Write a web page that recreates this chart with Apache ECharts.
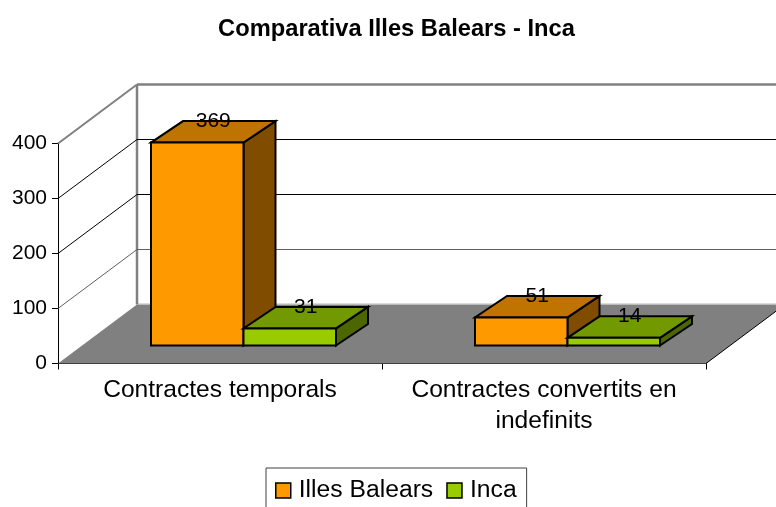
<!DOCTYPE html>
<html><head><meta charset="utf-8">
<style>html,body{margin:0;padding:0;background:#fff}#c{width:776px;height:507px}</style>
<script src="https://cdn.jsdelivr.net/npm/echarts@6/dist/echarts.min.js"></script>
</head><body><div id="c"></div>
<script>
const categories = ['Contractes temporals', 'Contractes convertits en\nindefinits'];
const illesBalears = [369, 51];
const inca = [31, 14];
const yTicks = [0, 100, 200, 300, 400];

const FONT = '"Liberation Sans", Arial, sans-serif';
const WALL = [79, 59];
const BAR_OFFSET = [23.5, 18];
const BAR_DEPTH = [32, 21.5];
const BAR_FRAC = 92.5 / 324;

function poly(points, fill, stroke, lw) {
  return {type: 'polygon', shape: {points}, style: {fill, stroke: stroke || 'none', lineWidth: lw || 0, lineJoin: 'miter'}};
}
function line(pts, stroke, lw) {
  return {type: 'polyline', shape: {points: pts}, style: {fill: 'none', stroke, lineWidth: lw}};
}

function renderWalls(params, api) {
  const t = api.value(1);
  const band = api.size([1, 0])[0];
  const c0 = api.coord([0, t]);
  const xL = Math.round(c0[0] - band / 2);
  const xR = xL + band * categories.length;
  const y = c0[1];
  const yBack = y - WALL[1];
  const xB = xL + WALL[0];
  const children = [];
  if (t === 0) {
    const top = api.coord([0, yTicks[yTicks.length - 1]])[1];
    children.push(poly([[xL, y], [xB, yBack], [xR + WALL[0], yBack], [xR, y]], '#808080'));
    children.push(line([[xR, y], [xR + WALL[0], yBack]], '#000', 1));
    children.push(line([[xB, yBack - 0.5], [xR + WALL[0], yBack - 0.5]], '#b8b8b8', 1));
    children.push(line([[xB, top - WALL[1]], [xB, yBack]], '#808080', 2.5));
  } else if (t === yTicks[yTicks.length - 1]) {
    children.push(line([[xL, y], [xB, yBack]], '#808080', 2));
    children.push(line([[xB, yBack], [xR + WALL[0], yBack]], '#808080', 2.5));
  } else {
    children.push(line([[xL, y], [xB, yBack], [xR + WALL[0], yBack]], t === yTicks[1] ? '#606060' : '#000', 1));
  }
  return {type: 'group', children};
}

function makeBars(seriesIdx, faces) {
  return function (params, api) {
    const cat = api.value(0), val = api.value(1);
    const band = api.size([1, 0])[0];
    const w = band * BAR_FRAC;
    const base = api.coord([cat, 0]);
    const top = api.coord([cat, val]);
    const x0 = base[0] + (seriesIdx - 1) * w + BAR_OFFSET[0];
    const x1 = x0 + w;
    const yB = base[1] - BAR_OFFSET[1];
    const yT = top[1] - BAR_OFFSET[1];
    const dx = BAR_DEPTH[0], dy = BAR_DEPTH[1];
    return {type: 'group', children: [
      poly([[x1, yB], [x1 + dx, yB - dy], [x1 + dx, yT - dy], [x1, yT]], faces[2], '#000', 2),
      poly([[x0, yT], [x1, yT], [x1 + dx, yT - dy], [x0 + dx, yT - dy]], faces[1], '#000', 2),
      poly([[x0, yB], [x1, yB], [x1, yT], [x0, yT]], faces[0], '#000', 2),
      {type: 'text', z2: 10, x: x0 + w / 2 + dx / 2, y: yT - dy,
        style: {text: String(val), fill: '#000', font: '21px ' + FONT, align: 'center', verticalAlign: 'middle'}}
    ]};
  };
}

const chart = echarts.init(document.getElementById('c'), null, {renderer: 'canvas'});
chart.setOption({
  animation: false,
  backgroundColor: '#fff',
  textStyle: {fontFamily: FONT},
  title: {
    text: 'Comparativa Illes Balears - Inca',
    left: 391.5, top: 12, textAlign: 'center',
    textStyle: {fontFamily: FONT, fontSize: 23.7, fontWeight: 'bold', color: '#000'}
  },
  legend: {
    data: ['Illes Balears', 'Inca'],
    left: 266, top: 468,
    orient: 'horizontal',
    padding: [10, 10, 14, 9],
    borderColor: '#404040', borderWidth: 1,
    itemWidth: 15, itemHeight: 15, itemGap: 13,
    icon: 'rect',
    itemStyle: {borderColor: '#000', borderWidth: 1.5},
    textStyle: {fontFamily: FONT, fontSize: 24.7, color: '#000', padding: [0, 0, 0, 3]}
  },
  grid: {left: 58, right: 70, top: 143.5, bottom: 143.5},
  xAxis: {
    type: 'category', data: categories, boundaryGap: true,
    axisLine: {lineStyle: {color: '#000', width: 1}},
    axisTick: {show: true, length: 6, alignWithLabel: false, interval: 0, lineStyle: {color: '#000'}},
    axisLabel: {interval: 0, color: '#000', fontFamily: FONT, fontSize: 24.6, margin: 11, lineHeight: 31, align: 'center'},
    splitLine: {show: false}
  },
  yAxis: {
    type: 'value', min: 0, max: 400, interval: 100,
    axisLine: {show: true, lineStyle: {color: '#000', width: 1}},
    axisTick: {show: true, length: 6, lineStyle: {color: '#000'}},
    axisLabel: {color: '#000', fontFamily: FONT, fontSize: 21, margin: 11},
    splitLine: {show: false}
  },
  series: [
    {name: 'walls', type: 'custom', silent: true, z: 1, renderItem: renderWalls,
      data: yTicks.map(t => [0, t]), encode: {x: 0, y: 1}},
    {name: 'Illes Balears', type: 'custom', z: 3, itemStyle: {color: '#FF9900'},
      renderItem: makeBars(0, ['#FF9900', '#BF7300', '#804C00']),
      data: illesBalears.map((v, i) => [i, v]), encode: {x: 0, y: 1}},
    {name: 'Inca', type: 'custom', z: 4, itemStyle: {color: '#99CC00'},
      renderItem: makeBars(1, ['#99CC00', '#739900', '#4D6600']),
      data: inca.map((v, i) => [i, v]), encode: {x: 0, y: 1}}
  ]
});
</script></body></html>
